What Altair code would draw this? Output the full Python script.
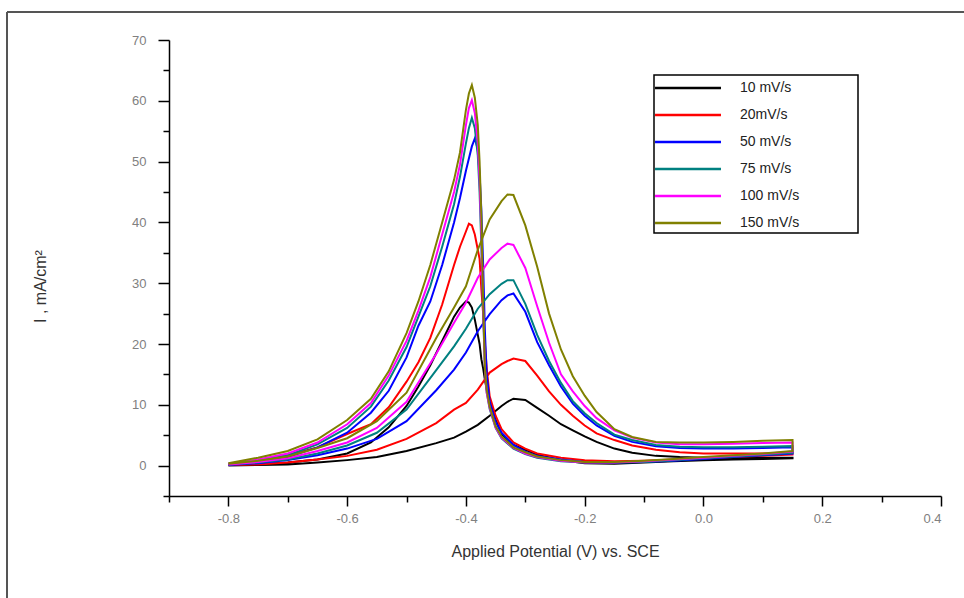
import altair as alt
import pandas as pd

SERIES = ["10 mV/s", "20mV/s", "50 mV/s", "75 mV/s", "100 mV/s", "150 mV/s"]
COLORS = ["#000000", "#ff0000", "#0000ff", "#008080", "#ff00ff", "#808000"]

# forward scan (-0.8 V -> 0.15 V)
FWD_E = [-0.80, -0.75, -0.70, -0.65, -0.60, -0.55, -0.50, -0.45, -0.42, -0.40,
         -0.38, -0.36, -0.34, -0.33, -0.32, -0.30, -0.28, -0.26, -0.24, -0.22,
         -0.20, -0.18, -0.15, -0.12, -0.08, -0.04, 0.00, 0.05, 0.10, 0.15]
FWD_10 = [0.0, 0.1, 0.2, 0.5, 0.9, 1.4, 2.4, 3.7, 4.6, 5.6, 6.7, 8.2, 9.8, 10.5, 11.0,
          10.8, 9.5, 8.2, 6.8, 5.8, 4.8, 3.9, 2.8, 2.1, 1.6, 1.4, 1.3, 1.3, 1.3, 1.3]
FWD_20 = [0.1, 0.2, 0.5, 1.0, 1.6, 2.6, 4.4, 7.0, 9.2, 10.3, 12.5, 15.3, 16.7, 17.2, 17.6,
          17.2, 14.8, 12.2, 10.0, 8.2, 6.6, 5.3, 4.2, 3.3, 2.6, 2.2, 2.0, 2.0, 2.0, 2.1]
FWD_50 = [0.1, 0.4, 0.9, 1.7, 2.8, 4.4, 7.3, 12.4, 15.8, 18.6, 22.1, 24.9, 27.2, 28.0, 28.3,
          25.3, 20.3, 16.5, 13.0, 10.2, 8.2, 6.6, 4.9, 3.9, 3.2, 2.9, 2.8, 2.8, 2.9, 3.0]
FWD_75 = [0.2, 0.5, 1.0, 2.0, 3.3, 5.4, 9.2, 15.7, 19.6, 22.5, 25.8, 28.2, 29.9, 30.5, 30.5,
          26.6, 21.5, 17.2, 13.6, 10.6, 8.6, 7.0, 5.1, 4.2, 3.4, 3.1, 3.0, 3.0, 3.1, 3.2]
FWD_100 = [0.2, 0.6, 1.2, 2.4, 3.8, 6.2, 10.5, 18.4, 23.5, 26.8, 30.9, 33.9, 35.8, 36.5, 36.3,
           32.5, 26.2, 20.2, 15.0, 12.2, 9.8, 7.8, 5.8, 4.6, 3.8, 3.5, 3.5, 3.6, 3.7, 3.8]
FWD_150 = [0.3, 0.8, 1.5, 2.9, 4.5, 7.3, 12.0, 21.0, 26.0, 29.5, 35.5, 40.5, 43.5, 44.6, 44.5,
           39.5, 32.7, 25.0, 19.1, 14.7, 11.5, 8.8, 6.0, 4.7, 3.9, 3.8, 3.8, 3.9, 4.1, 4.2]

# reverse scan (0.15 V -> -0.8 V)
REV_E = [0.15, 0.10, 0.05, 0.00, -0.05, -0.10, -0.15, -0.20, -0.24, -0.28,
         -0.30, -0.32, -0.34, -0.35, -0.36, -0.365, -0.368, -0.371, -0.374, -0.377,
         -0.38, -0.385, -0.39, -0.395, -0.40, -0.41, -0.42, -0.44, -0.46, -0.48,
         -0.50, -0.53, -0.56, -0.60, -0.65, -0.70, -0.75, -0.80]
REV_10 = [1.2, 1.1, 1.0, 0.9, 0.7, 0.5, 0.3, 0.4, 0.9, 1.8, 2.6, 3.4, 5.2, 7.5, 10.5, 12.5,
          14.1, 16.0, 17.5, 20.0, 21.5, 24.0, 26.0, 26.8, 27.0, 26.0, 24.5, 20.5, 16.5, 13.0,
          9.8, 6.3, 3.8, 2.0, 1.0, 0.5, 0.2, 0.0]
REV_20 = [1.8, 1.6, 1.4, 1.2, 1.0, 0.8, 0.7, 0.9, 1.3, 2.0, 2.8, 3.8, 6.0, 8.2, 11.4, 16.0,
          20.0, 25.0, 29.0, 34.0, 35.5, 38.0, 39.5, 39.8, 38.5, 36.0, 33.0, 26.5, 21.0, 17.0,
          13.8, 9.6, 6.8, 5.2, 3.0, 1.7, 0.8, 0.2]
REV_50 = [2.0, 1.7, 1.4, 1.1, 0.8, 0.6, 0.5, 0.6, 1.0, 1.6, 2.3, 3.4, 5.4, 7.2, 10.5, 15.0,
          22.0, 33.0, 42.0, 48.0, 52.0, 53.8, 52.5, 50.5, 48.5, 44.0, 40.0, 33.0, 27.0, 23.0,
          17.8, 12.3, 8.7, 5.4, 3.0, 1.4, 0.7, 0.2]
REV_75 = [2.1, 1.8, 1.5, 1.2, 0.9, 0.6, 0.5, 0.5, 0.7, 1.3, 1.9, 2.8, 4.5, 6.2, 9.3, 12.0,
          16.0, 25.0, 36.0, 45.0, 51.0, 55.5, 57.2, 55.5, 53.0, 47.5, 43.0, 36.0, 29.5, 24.5,
          19.5, 14.0, 9.7, 6.2, 3.5, 1.7, 0.9, 0.3]
REV_100 = [2.3, 1.9, 1.6, 1.3, 1.0, 0.7, 0.5, 0.5, 0.8, 1.4, 2.0, 2.9, 4.6, 6.3, 9.5, 12.0,
           16.0, 26.0, 38.0, 47.0, 53.0, 58.0, 60.1, 58.8, 56.0, 49.5, 45.0, 38.0, 31.0, 25.5,
           20.5, 14.8, 10.3, 6.8, 3.8, 2.0, 1.0, 0.3]
REV_150 = [2.4, 2.0, 1.7, 1.4, 1.1, 0.8, 0.6, 0.6, 0.9, 1.5, 2.2, 3.0, 4.8, 6.5, 9.7, 12.5,
           16.0, 27.0, 41.0, 50.0, 56.0, 60.5, 62.6, 61.2, 58.5, 51.5, 47.0, 40.0, 33.0, 27.0,
           21.8, 15.5, 11.0, 7.5, 4.3, 2.4, 1.3, 0.4]

X_MAJOR = [-0.8, -0.6, -0.4, -0.2, 0.0, 0.2, 0.4]
X_MINOR = [-0.9, -0.7, -0.5, -0.3, -0.1, 0.1, 0.3]
Y_MAJOR = [0, 10, 20, 30, 40, 50, 60, 70]
Y_MINOR = [-5, 5, 15, 25, 35, 45, 55, 65]

FWD = [FWD_10, FWD_20, FWD_50, FWD_75, FWD_100, FWD_150]
REV = [REV_10, REV_20, REV_50, REV_75, REV_100, REV_150]

rows = []
for name, fwd, rev in zip(SERIES, FWD, REV):
    step = 0
    for e, i in zip(FWD_E, fwd):
        rows.append({"series": name, "E": e, "I": i, "step": step})
        step += 1
    for e, i in zip(REV_E, rev):
        rows.append({"series": name, "E": e, "I": i, "step": step})
        step += 1
df = pd.DataFrame(rows)

FONT = "Liberation Sans"
xscale = alt.Scale(domain=[-0.9, 0.4], nice=False, zero=False)
yscale = alt.Scale(domain=[-5, 70], nice=False, zero=False)

x_major = alt.Axis(
    orient="bottom",
    values=X_MAJOR, tickSize=10, tickWidth=1.5, tickColor="#000", domainColor="#000",
    domainWidth=1.5, grid=False, labelColor="#808080", labelFontSize=13, labelFont=FONT,
    labelPadding=6,
    labelExpr="datum.value < 0 ? '-' + format(abs(datum.value), '.1f') : format(datum.value, '.1f')",
    title="Applied Potential (V) vs. SCE", titleFont=FONT, titleFontSize=16,
    titleFontWeight="normal", titleColor="#333", titleBaseline="middle", titleY=55,
)
y_major = alt.Axis(
    orient="left",
    values=Y_MAJOR, tickSize=11, tickWidth=1.5, tickColor="#000", domainColor="#000",
    domainWidth=1.5, grid=False, labelColor="#808080", labelFontSize=13, labelFont=FONT,
    labelPadding=12, format="d",
    title="I , mA/cm²", titleFont=FONT, titleFontSize=16, titleFontWeight="normal",
    titleColor="#333", titleAngle=270, titleX=-129, titleY=246,
    titleAlign="center", titleBaseline="middle",
)
x_minor = alt.Axis(values=X_MINOR, tickSize=6, tickWidth=1.5, tickColor="#000",
                   domain=False, labels=False, grid=False, title=None, orient="bottom")
y_minor = alt.Axis(values=Y_MINOR, tickSize=6, tickWidth=1.5, tickColor="#000",
                   domain=False, labels=False, grid=False, title=None, orient="left")

lines = alt.Chart(df).mark_line(strokeWidth=2, clip=True).encode(
    x=alt.X("E:Q", scale=xscale, axis=x_major),
    y=alt.Y("I:Q", scale=yscale, axis=y_major),
    color=alt.Color(
        "series:N",
        scale=alt.Scale(domain=SERIES, range=COLORS),
        legend=alt.Legend(
            title=None, orient="none", legendX=511, legendY=40,
            symbolType="M-5,0H5", symbolSize=174, symbolStrokeWidth=2.5,
            labelFont=FONT, labelFontSize=14, labelColor="#222", labelOffset=44,
            rowPadding=12, padding=0, strokeColor=None,
        ),
    ),
    order="step:Q",
)

minor = alt.Chart(df).mark_point(opacity=0).encode(
    x=alt.X("E:Q", scale=xscale, axis=x_minor),
    y=alt.Y("I:Q", scale=yscale, axis=y_minor),
)

dummy = pd.DataFrame({"k": [0]})
legend_box = alt.Chart(dummy).mark_rect(fill="white", stroke="#000", strokeWidth=1.5).encode(
    x=alt.value(485), x2=alt.value(689), y=alt.value(35), y2=alt.value(193)
)
frame_left = alt.Chart(dummy).mark_rule(color="#555", strokeWidth=2).encode(
    x=alt.value(-162), y=alt.value(-28), y2=alt.value(560)
)
frame_top = alt.Chart(dummy).mark_rule(color="#555", strokeWidth=2).encode(
    x=alt.value(-162), x2=alt.value(800), y=alt.value(-28)
)

chart = alt.layer(frame_left, frame_top, legend_box, minor, lines).resolve_axis(
    x="independent", y="independent"
).properties(
    width=772, height=456,
    autosize=alt.AutoSizeParams(type="none"),
    padding={"left": 169, "top": 40, "right": 23, "bottom": 102},
    background="white",
).configure_view(stroke=None)

chart.save("out.html", embed_options={"renderer": "svg", "actions": False})
